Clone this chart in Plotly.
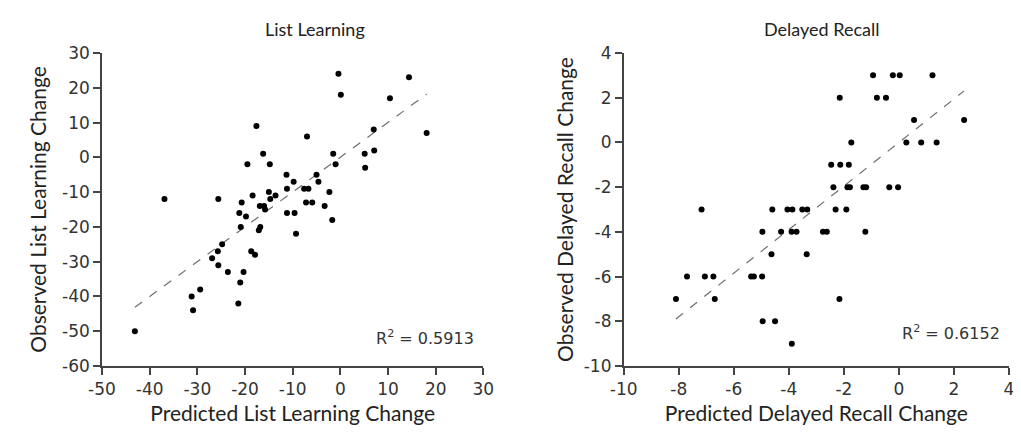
import numpy as np
import plotly.graph_objects as go

# ---------------- data: List Learning ----------------
ll_pred = [-17.6, -7.0, -16.2, -19.5, -14.8, -11.3, -9.8, -11.2, -7.6, -6.7, -5.0,
           -36.9, -25.6, -18.4, -15.0, -13.6, -14.7, -20.7, -16.9, -16.0, -15.8,
           -11.2, -9.6, -7.2, -5.9, -21.2, -19.8, -20.9, -16.8, -17.1, -9.3,
           -24.8, -25.7, -26.9, -18.7, -17.9, -25.6, -23.6, -20.3, -21.0, -29.4,
           -31.2, -30.9, -21.4, -43.1, -0.4, 0.1, 14.4, 10.4, 7.0, 18.1,
           -1.5, 5.1, 7.1, -1.0, 5.2, -4.6, -2.3, -3.3, -1.7]
ll_obs = [9, 6, 1, -2, -2, -5, -7, -9, -9, -9, -5,
          -12, -12, -11, -10, -11, -12, -13, -14, -14, -15,
          -16, -16, -13, -13, -16, -17, -20, -20, -21, -22,
          -25, -27, -29, -27, -28, -31, -33, -33, -36, -38,
          -40, -44, -42, -50, 24, 18, 23, 17, 8, 7,
          1, 1, 2, -2, -3, -7, -10, -14, -18]
ll_r2 = "R<sup>2</sup> = 0.5913"

# ---------------- data: Delayed Recall ----------------
dr_pred = [-0.94, -0.22, 0.03, 1.22,
           -2.15, -0.80, -0.47,
           0.55, 2.37,
           -1.73, 0.27, 0.81, 1.37,
           -2.46, -2.13, -1.82,
           -2.38, -1.87, -1.78, -1.29, -1.19, -0.35, -0.03,
           -7.17, -4.60, -4.05, -3.87, -3.51, -3.33, -2.30, -1.91,
           -4.96, -4.28, -3.90, -3.72, -2.76, -2.62, -1.22,
           -4.63, -3.35,
           -7.70, -7.05, -6.74, -5.37, -5.27, -4.97,
           -8.10, -6.69, -2.16,
           -4.95, -4.50,
           -3.89]
dr_obs = [3, 3, 3, 3,
          2, 2, 2,
          1, 1,
          0, 0, 0, 0,
          -1, -1, -1,
          -2, -2, -2, -2, -2, -2, -2,
          -3, -3, -3, -3, -3, -3, -3, -3,
          -4, -4, -4, -4, -4, -4, -4,
          -5, -5,
          -6, -6, -6, -6, -6, -6,
          -7, -7, -7,
          -8, -8,
          -9]
dr_r2 = "R<sup>2</sup> = 0.6152"

# tick labels
ll_x_ticks = [-50, -40, -30, -20, -10, 0, 10, 20, 30]
ll_y_ticks = [-60, -50, -40, -30, -20, -10, 0, 10, 20, 30]
dr_x_ticks = [-10, -8, -6, -4, -2, 0, 2, 4]
dr_y_ticks = [-10, -8, -6, -4, -2, 0, 2, 4]


def lab(vals):
    return [str(v) for v in vals]  # plain hyphen for negatives


def trend(x, y):
    x = np.asarray(x, float)
    y = np.asarray(y, float)
    m, b = np.polyfit(x, y, 1)
    xs = np.array([x.min(), x.max()])
    return xs, m * xs + b


fig = go.Figure()

marker = dict(color="black", size=6, line=dict(width=0))
line_style = dict(color="#6e6e6e", width=1.2, dash="dash")

tx, ty = trend(ll_pred, ll_obs)
fig.add_trace(go.Scatter(x=tx, y=ty, mode="lines", line=line_style,
                         xaxis="x", yaxis="y", hoverinfo="skip"))
fig.add_trace(go.Scatter(x=ll_pred, y=ll_obs, mode="markers", marker=marker,
                         xaxis="x", yaxis="y"))

tx2, ty2 = trend(dr_pred, dr_obs)
fig.add_trace(go.Scatter(x=tx2, y=ty2, mode="lines", line=line_style,
                         xaxis="x2", yaxis="y2", hoverinfo="skip"))
fig.add_trace(go.Scatter(x=dr_pred, y=dr_obs, mode="markers", marker=marker,
                         xaxis="x2", yaxis="y2"))

tick_font = dict(family="DejaVu Sans", size=17, color="#333333")
title_font = dict(family="Lato", size=21, color="#222222")

axis_common = dict(showgrid=False, zeroline=False, showline=True,
                   linecolor="#444444", linewidth=1.5, ticks="outside",
                   ticklen=7, tickcolor="#444444", tickwidth=1.5,
                   tickfont=tick_font, title_font=title_font, mirror=False)

W, H = 1021, 437
L, R, T, B = 94, 9, 45, 79
pw = W - L - R


def dom(a, b):
    return [(a - L) / pw, (b - L) / pw]


def px(p):
    return (p - L) / pw


fig.update_layout(
    width=W, height=H,
    margin=dict(l=L, r=R, t=T, b=B),
    paper_bgcolor="white", plot_bgcolor="white",
    showlegend=False,
    xaxis=dict(domain=dom(94, 480), range=[-50, 30], tickvals=ll_x_ticks,
               ticktext=lab(ll_x_ticks), anchor="y",
               title=dict(text="Predicted List Learning Change", standoff=8),
               **axis_common),
    yaxis=dict(domain=[0, 1], range=[-60, 30], tickvals=ll_y_ticks,
               ticktext=lab(ll_y_ticks), anchor="x",
               title=dict(text="Observed List Learning Change", standoff=10),
               **axis_common),
    xaxis2=dict(domain=dom(622, 1012), range=[-10, 4], tickvals=dr_x_ticks,
                ticktext=lab(dr_x_ticks), anchor="y2",
                title=dict(text="Predicted Delayed Recall Change", standoff=8),
                **axis_common),
    yaxis2=dict(domain=[0, 1], range=[-10, 4], tickvals=dr_y_ticks,
                ticktext=lab(dr_y_ticks), anchor="x2",
                title=dict(text="Observed Delayed Recall Change", standoff=4),
                **axis_common),
    annotations=[
        dict(text="List Learning", x=px(310), y=1.035,
             xref="paper", yref="paper", showarrow=False, xanchor="center",
             yanchor="bottom", font=dict(family="Lato", size=18, color="#222222")),
        dict(text="Delayed Recall", x=px(823), y=1.035,
             xref="paper", yref="paper", showarrow=False, xanchor="center",
             yanchor="bottom", font=dict(family="Lato", size=18, color="#222222")),
        dict(text=ll_r2, x=28.5, y=-51.8, xref="x", yref="y", showarrow=False,
             xanchor="right", yanchor="middle",
             font=dict(family="DejaVu Sans", size=16, color="#333333")),
        dict(text=dr_r2, x=3.75, y=-8.5, xref="x2", yref="y2", showarrow=False,
             xanchor="right", yanchor="middle",
             font=dict(family="DejaVu Sans", size=16, color="#333333")),
    ],
)

fig.write_html("out.html")
